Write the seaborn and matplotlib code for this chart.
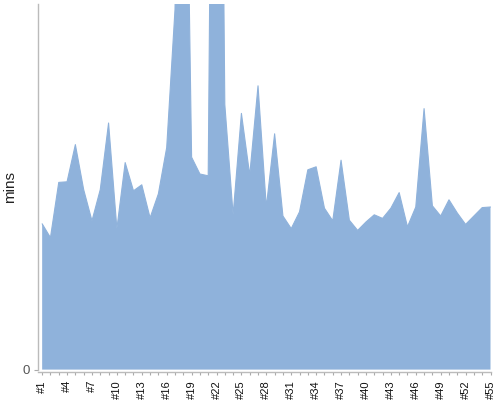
import matplotlib
matplotlib.use("Agg")
import matplotlib.pyplot as plt
import seaborn as sns
import pandas as pd
import numpy as np
from matplotlib.ticker import FixedLocator, FixedFormatter

# Data (minutes)
runs = [f"#{i}" for i in range(1, 56)]
mins = [24.3, 22.0, 31.2, 31.3, 37.5, 30.0, 24.8, 30.0, 41.1, 23.5,
        34.5, 29.8, 30.8, 25.3, 29.3, 37.0, 60.0, 128.0, 35.4, 32.6,
        32.3, 200.0, 44.2, 25.8, 42.7, 32.4, 47.3, 27.1, 39.3, 25.6,
        23.5, 26.3, 33.3, 33.8, 26.9, 24.8, 34.9, 24.9, 23.2, 24.6,
        25.8, 25.2, 26.9, 29.5, 23.8, 27.1, 43.5, 27.3, 25.6, 28.3,
        26.1, 24.2, 25.6, 27.0, 27.1]
y_max = 61
label_every = 3

df = pd.DataFrame({"run": runs, "mins": mins})
df["pos"] = np.arange(len(df))

sns.set_theme(style="white")
plt.rcParams["font.family"] = ["Liberation Sans", "DejaVu Sans"]

fig = plt.figure(figsize=(5, 4), dpi=100)
ax = fig.add_axes([0.076, 0.076, 0.905, 0.915])

area_color = "#8fb2db"
sns.lineplot(data=df, x="pos", y="mins", ax=ax, color=area_color, linewidth=0.8)
ax.fill_between(df["pos"], 0, df["mins"], color=area_color, linewidth=0)

ax.set_xlim(-0.5, len(df) - 1)
ax.set_ylim(0, y_max)

# ticks
major_pos = list(df["pos"][::label_every])
major_lab = list(df["run"][::label_every])
ax.xaxis.set_major_locator(FixedLocator(major_pos))
ax.xaxis.set_major_formatter(FixedFormatter(major_lab))
ax.xaxis.set_minor_locator(FixedLocator(list(df["pos"])))
ax.set_yticks([0])
ax.set_yticklabels(["0"])
ax.tick_params(axis="x", which="both", bottom=True, length=2.5, width=0.8,
               color="#aaaaaa", pad=3, labelrotation=90, labelsize=8,
               labelcolor="#111111")
ax.tick_params(axis="y", left=True, length=3, width=0.8, color="#aaaaaa",
               pad=3, labelsize=9.5, labelcolor="#555555")

ax.set_xlabel("")
ax.set_ylabel("mins", fontsize=11, color="#222222")
ax.yaxis.set_label_coords(-0.047, 0.5)

for s in ["top", "right"]:
    ax.spines[s].set_visible(False)
ax.spines["left"].set_color("#bbbbbb")
ax.spines["bottom"].set_color("#bbbbbb")
ax.spines["left"].set_linewidth(1)
ax.spines["bottom"].set_linewidth(1)
ax.spines["bottom"].set_position(("outward", 2))

fig.savefig("out.png", dpi=100)
